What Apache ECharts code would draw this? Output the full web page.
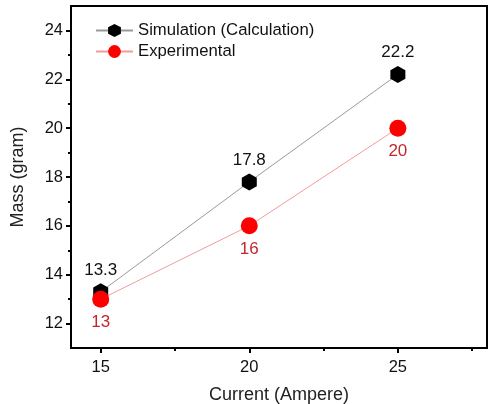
<!DOCTYPE html>
<html><head><meta charset="utf-8">
<script src="https://cdn.jsdelivr.net/npm/echarts@6/dist/echarts.min.js"></script>
<style>html,body{margin:0;padding:0;background:#fff}#c{width:497px;height:404px}</style>
</head><body><div id="c"></div>
<script>
const currents = [15, 20, 25];
const simulation = [13.3, 17.8, 22.2];
const experimental = [13, 16, 20];
const xMajor = [15, 20, 25];
const xMinor = [17.5, 22.5, 27.5];
const yMajor = [12, 14, 16, 18, 20, 22, 24];
const yMinor = [13, 15, 17, 19, 21, 23];

const hex = 'path://M0,-1 L0.866,-0.5 L0.866,0.5 L0,1 L-0.866,0.5 L-0.866,-0.5 Z';
const font = 'Liberation Sans, Arial, sans-serif';
const chart = echarts.init(document.getElementById('c'));
const axisBase = {
  axisLine: {show: true, onZero: false, lineStyle: {color: '#000', width: 2}},
  splitLine: {show: false}
};
chart.setOption({
  animation: false,
  grid: {left: 71, right: 10, top: 6, bottom: 56, show: true, borderColor: '#000', borderWidth: 2,
         containLabel: false, outerBoundsMode: 'none'},
  legend: {
    left: 90, top: 17, orient: 'vertical', itemGap: 4, itemWidth: 37, itemHeight: 16,
    textStyle: {fontFamily: font, fontSize: 16.7, color: '#111'},
    data: ['Simulation (Calculation)', 'Experimental']
  },
  xAxis: [
    Object.assign({}, axisBase, {
      type: 'value', min: 14, max: 28,
      name: 'Current (Ampere)', nameLocation: 'middle', nameGap: 38,
      nameTextStyle: {fontFamily: font, fontSize: 18, color: '#222'},
      axisTick: {show: true, length: 5, lineStyle: {color: '#000', width: 2}, customValues: xMajor},
      axisLabel: {customValues: xMajor, fontFamily: font, fontSize: 16.5, color: '#111', margin: 11}
    }),
    Object.assign({}, axisBase, {
      type: 'value', min: 14, max: 28, position: 'bottom',
      axisTick: {show: true, length: 3, lineStyle: {color: '#000', width: 2}, customValues: xMinor},
      axisLabel: {show: false, customValues: xMinor}
    })
  ],
  yAxis: [
    Object.assign({}, axisBase, {
      type: 'value', min: 11, max: 25,
      name: 'Mass (gram)', nameLocation: 'middle', nameGap: 44,
      nameTextStyle: {fontFamily: font, fontSize: 18, color: '#222'},
      axisTick: {show: true, length: 5, lineStyle: {color: '#000', width: 2}, customValues: yMajor},
      axisLabel: {customValues: yMajor, fontFamily: font, fontSize: 16.5, color: '#111', margin: 8}
    }),
    Object.assign({}, axisBase, {
      type: 'value', min: 11, max: 25, position: 'left',
      axisTick: {show: true, length: 3, lineStyle: {color: '#000', width: 2}, customValues: yMinor},
      axisLabel: {show: false, customValues: yMinor}
    })
  ],
  series: [
    {
      name: 'Simulation (Calculation)', type: 'line',
      data: currents.map((c, i) => [c, simulation[i]]),
      symbol: hex, symbolSize: [15, 17],
      itemStyle: {color: '#000'},
      lineStyle: {color: '#999999', width: 1},
      label: {show: true, position: 'top', distance: 5, fontFamily: font, fontSize: 17, color: '#111'},
      z: 3
    },
    {
      name: 'Experimental', type: 'line',
      data: currents.map((c, i) => [c, experimental[i]]),
      symbol: 'circle', symbolSize: 17,
      itemStyle: {color: '#ff0000'},
      lineStyle: {color: '#f49a9a', width: 1},
      label: {show: true, position: 'bottom', distance: 6, fontFamily: font, fontSize: 17, color: '#c1272d'},
      z: 4
    }
  ]
});
</script></body></html>
